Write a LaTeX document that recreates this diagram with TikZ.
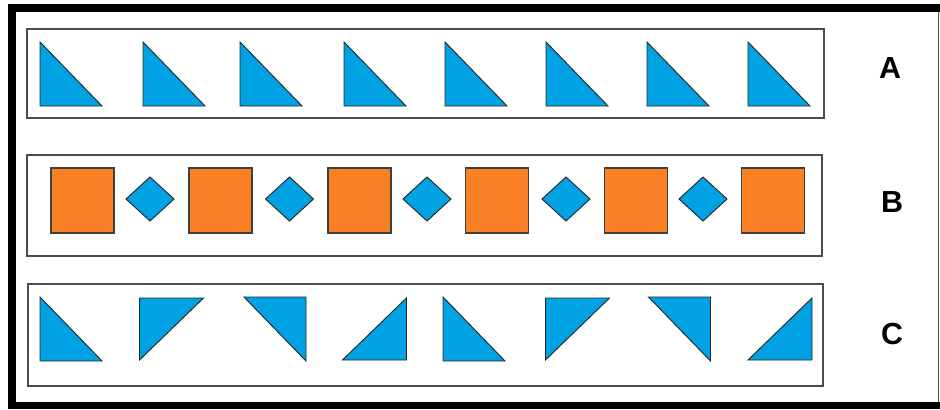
\documentclass[tikz,border=0pt]{standalone}
\usepackage{fontspec}
\setmainfont{Liberation Sans}
\definecolor{triblue}{RGB}{0,162,228}
\definecolor{sqorange}{RGB}{250,128,38}

\begin{document}
\begin{tikzpicture}[
						x=0.03cm, y=-0.03cm,
						line join=miter,
						tri/.style={fill=triblue, draw=black!85, line width=0.8pt},
						sq/.style={fill=sqorange, draw=black!75, line width=0.9pt},
						rowbox/.style={draw=black!70, line width=1.2pt},
						rowlab/.style={font=\fontsize{26}{26}\selectfont\bfseries, inner sep=0pt}
						]
						
						\useasboundingbox (0,0) rectangle (940,409);
						\clip (0,0) rectangle (940,409);
						
						% Khung ngoài
						\draw[line width=6.8pt] (950,8) -- (12,8) -- (12,405.5) -- (950,405.5);
						\draw[black!70, line width=0.9pt] (938.5,12) -- (938.5,402);
						
						% Ô các hàng
						\draw[rowbox] (27,29) rectangle (824,118);
						\draw[rowbox] (27,155) rectangle (822,256);
						\draw[rowbox] (28,284) rectangle (823,386);
						
						% Hàng A
						\foreach \x in {71,174,271,375,476,577,678,779}{
							\draw[tri] (\x-31,42) -- (\x-31,106) -- (\x+31,106) -- cycle;
						}
						
						% Hàng B: hình vuông
						\foreach \x in {82.5,220.5,359.5,497,636,773}{
							\draw[sq] (\x-31.5,168) rectangle (\x+31.5,233);
						}
						
						% Hàng B: hình thoi
						\foreach \x in {150,289.5,427,566,703}{
							\draw[tri] (\x-24,199) -- (\x,177) -- (\x+24,199) -- (\x,221) -- cycle;
						}
						
						% Hàng C
						\foreach \x/\r in {
							71/0,
							171.5/-90,
							275/180,
							374.5/90,
							474/0,
							577.5/-90,
							679.5/180,
							780/90
						}{
							\draw[tri, rotate around={\r:(\x,329)}] (\x-31,297) -- (\x-31,361) -- (\x+31,361) -- cycle;
						}
						
						% Nhãn
						\node[rowlab] (labA) at (890,68) {A};
						\node[rowlab] (labB) at (892,202.5) {B};
						\node[rowlab] (labC) at (892,334) {C};
						
					\end{tikzpicture}
\end{document}
